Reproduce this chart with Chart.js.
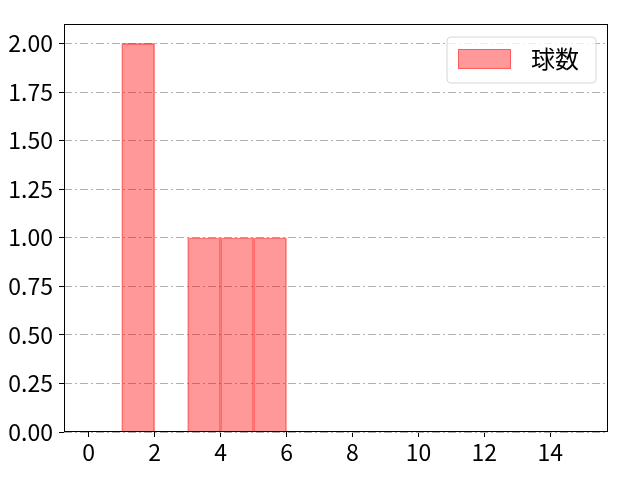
<!DOCTYPE html>
<html>
<head>
<meta charset="utf-8">
<script src="https://cdn.jsdelivr.net/npm/chart.js@4/dist/chart.umd.min.js"></script>
<style>
  html, body { margin: 0; padding: 0; background: #fff; }
  #wrap { width: 640px; height: 480px; }
</style>
</head>
<body>
<div id="wrap"><canvas id="graph"></canvas></div>
<script>
// histogram bins (start of each bin, width 1) and counts
const binStarts = [0, 1, 2, 3, 4, 5, 6, 7, 8, 9, 10, 11, 12, 13, 14]
const counts    = [0, 2, 0, 1, 1, 1, 0, 0, 0, 0, 0, 0, 0, 0, 0]
const binWidth = 1
const seriesName = '球数'
const xTicks = [0, 2, 4, 6, 8, 10, 12, 14]
const yTicks = [0, 0.25, 0.5, 0.75, 1.0, 1.25, 1.5, 1.75, 2.0]

const FONT = "'Noto Sans CJK JP', 'Noto Sans', sans-serif"

const points = binStarts.map((b, i) => ({ x: b + binWidth / 2, y: counts[i] }))

// frame around plot + legend box inside the plot
const frame = {
  id: 'frame',
  afterDraw(chart) {
    const ctx = chart.ctx
    const a = chart.chartArea
    ctx.save()
    ctx.strokeStyle = '#000'
    ctx.lineWidth = 1
    ctx.strokeRect(a.left + 0.5, a.top + 0.5, a.right - a.left - 1, a.bottom - a.top - 1)

    // legend
    const bx = 447, by = 37, bw = 149, bh = 46, r = 4
    ctx.beginPath()
    ctx.moveTo(bx + r, by)
    ctx.arcTo(bx + bw, by, bx + bw, by + bh, r)
    ctx.arcTo(bx + bw, by + bh, bx, by + bh, r)
    ctx.arcTo(bx, by + bh, bx, by, r)
    ctx.arcTo(bx, by, bx + bw, by, r)
    ctx.closePath()
    ctx.fillStyle = 'rgba(255,255,255,0.8)'
    ctx.fill()
    ctx.strokeStyle = '#d6d6d6'
    ctx.stroke()
    ctx.fillStyle = 'rgba(255,0,0,0.4)'
    ctx.fillRect(458, 49, 53, 20)
    ctx.strokeStyle = 'rgba(255,0,0,0.4)'
    ctx.strokeRect(458.5, 49.5, 52, 19)
    ctx.fillStyle = '#000'
    ctx.font = '24px ' + FONT
    ctx.textBaseline = 'middle'
    ctx.fillText(chart.data.datasets[0].label, 531, 59)
    ctx.restore()
  }
}

const data = {
  datasets: [{
    label: seriesName,
    data: points,
    backgroundColor: 'rgba(255, 0, 0, 0.4)',
    borderColor: 'rgba(255, 0, 0, 0.45)',
    borderWidth: 1,
    borderSkipped: 'start',
    categoryPercentage: 1.0,
    barPercentage: 1.0
  }]
}

const config = {
  type: 'bar',
  data: data,
  options: {
    responsive: false,
    animation: false,
    devicePixelRatio: 1,
    layout: { padding: { top: 24, right: 32, left: 0, bottom: 0 } },
    plugins: { legend: { display: false }, tooltip: { enabled: false } },
    scales: {
      x: {
        type: 'linear',
        offset: false,
        min: -0.75,
        max: 15.75,
        afterBuildTicks: s => { s.ticks = xTicks.map(v => ({ value: v })) },
        afterFit: s => { s.height = 48 },
        grid: { offset: false, drawOnChartArea: false, drawTicks: true, tickLength: 5, tickColor: '#000' },
        border: { display: false },
        ticks: { color: '#000', font: { family: FONT, size: 23 }, padding: 1, maxRotation: 0 }
      },
      y: {
        min: 0,
        max: 2.1,
        afterBuildTicks: s => { s.ticks = yTicks.map(v => ({ value: v })) },
        afterFit: s => { s.width = 64 },
        grid: {
          color: '#b0b0b0',
          lineWidth: 1,
          drawTicks: true,
          tickLength: 5,
          tickColor: '#000',
          tickBorderDash: []
        },
        border: { display: false, dash: [8, 3, 2, 3] },
        ticks: {
          color: '#000',
          font: { family: FONT, size: 23 },
          padding: 6,
          callback: v => v.toFixed(2)
        }
      }
    }
  },
  plugins: [frame]
}

const canvas = document.getElementById('graph')
canvas.width = 640
canvas.height = 480
const myChart = new Chart(canvas, config)
</script>
</body>
</html>
